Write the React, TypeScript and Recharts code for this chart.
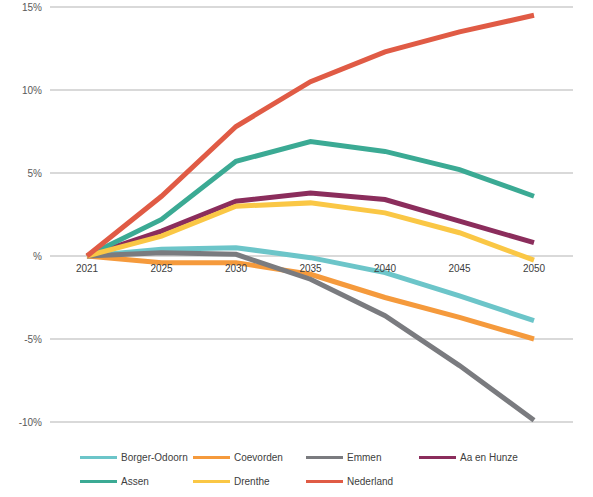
import {
  LineChart,
  Line,
  XAxis,
  YAxis,
  CartesianGrid,
  Legend,
  LabelList,
} from 'recharts';

const jaren = ['2021', '2025', '2030', '2035', '2040', '2045', '2050'];

const borgerOdoorn = [0, 0.4, 0.5, -0.1, -1.0, -2.4, -3.9];
const coevorden = [0, -0.4, -0.4, -1.1, -2.5, -3.7, -5.0];
const emmen = [0, 0.2, 0.1, -1.4, -3.6, -6.6, -9.9];
const aaEnHunze = [0, 1.5, 3.3, 3.8, 3.4, 2.1, 0.8];
const assen = [0, 2.2, 5.7, 6.9, 6.3, 5.2, 3.6];
const drenthe = [0, 1.2, 3.0, 3.2, 2.6, 1.4, -0.25];
const nederland = [0, 3.6, 7.8, 10.5, 12.3, 13.5, 14.5];

const yTicks = [-10, -5, 0, 5, 10, 15];

const series = [
  { key: 'Borger-Odoorn', values: borgerOdoorn, color: '#6cc5c9' },
  { key: 'Coevorden', values: coevorden, color: '#f59a3c' },
  { key: 'Emmen', values: emmen, color: '#7a7b7f' },
  { key: 'Aa en Hunze', values: aaEnHunze, color: '#8b2d5c' },
  { key: 'Assen', values: assen, color: '#3baa94' },
  { key: 'Drenthe', values: drenthe, color: '#fac745' },
  { key: 'Nederland', values: nederland, color: '#e05b45' },
];

const rows = jaren.map((jaar, i) => {
  const row: Record<string, string | number> = { jaar, nul: 0 };
  series.forEach((s) => {
    row[s.key] = s.values[i];
  });
  return row;
});

const font = '"Liberation Sans", Arial, sans-serif';

function LegendBox() {
  return (
    <div
      style={{
        display: 'flex',
        flexWrap: 'wrap',
        width: 460,
        marginLeft: 80,
        fontFamily: font,
        fontSize: 10,
        color: '#404040',
      }}
    >
      {series.map((s) => (
        <div
          key={s.key}
          style={{ width: 113, height: 24, display: 'flex', alignItems: 'center' }}
        >
          <span
            style={{
              display: 'inline-block',
              width: 37,
              height: 3,
              background: s.color,
              marginRight: 4,
            }}
          />
          <span>{s.key}</span>
        </div>
      ))}
    </div>
  );
}

export default function App() {
  return (
    <div style={{ position: 'absolute', left: 0, top: 0, background: '#fff' }}>
      <LineChart
        width={593}
        height={497}
        data={rows}
        margin={{ top: 7, right: 20, bottom: 27, left: 0 }}
      >
        <CartesianGrid vertical={false} stroke="#d9d9d9" strokeWidth={2} />
        <XAxis dataKey="jaar" hide padding={{ left: 37, right: 39 }} />
        <YAxis
          width={50}
          domain={[-10, 15]}
          ticks={yTicks}
          axisLine={false}
          tickLine={false}
          interval={0}
          tickFormatter={(v: number) => (v === 0 ? '%' : `${v}%`)}
          tick={{ fontSize: 10, fill: '#595959', fontFamily: font }}
        />
        <Legend
          verticalAlign="bottom"
          wrapperStyle={{ bottom: 4, left: 0 }}
          content={() => <LegendBox />}
        />
        <Line
          dataKey="nul"
          stroke="none"
          dot={false}
          legendType="none"
          isAnimationActive={false}
        >
          <LabelList
            dataKey="jaar"
            position="bottom"
            offset={9}
            style={{ fontSize: 10, fill: '#404040', fontFamily: font }}
          />
        </Line>
        {series.map((s) => (
          <Line
            key={s.key}
            dataKey={s.key}
            stroke={s.color}
            strokeWidth={5}
            dot={false}
            activeDot={false}
            strokeLinejoin="miter"
            isAnimationActive={false}
          />
        ))}
      </LineChart>
    </div>
  );
}
